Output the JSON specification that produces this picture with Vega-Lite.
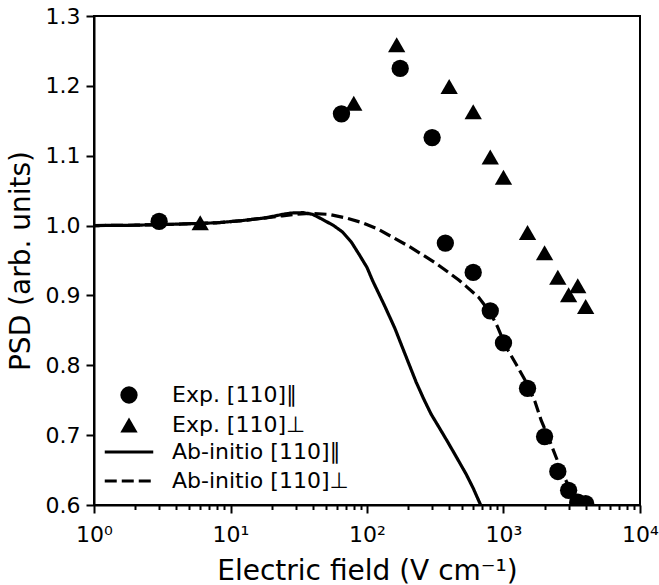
{
  "$schema": "https://vega.github.io/schema/vega-lite/v6.json",
  "width": 546,
  "height": 489,
  "autosize": {"type": "none"},
  "padding": {"left": 94, "top": 16, "right": 19, "bottom": 80},
  "background": "white",
  "config": {
    "font": "DejaVu Sans",
    "view": {"stroke": "black", "strokeWidth": 2},
    "axis": {
      "domainColor": "black", "domainWidth": 2, "tickColor": "black", "tickWidth": 2,
      "labelFont": "DejaVu Sans", "labelFontSize": 22, "labelColor": "black",
      "titleFont": "DejaVu Sans", "titleFontSize": 28, "titleFontWeight": "normal", "titleColor": "black",
      "grid": false
    },
    "legend": {"labelFont": "DejaVu Sans", "labelFontSize": 22, "labelColor": "black", "labelLimit": 0}
  },
  "datasets": {
    "lines": [
      {"field": 1, "psd": 1.0, "model": "Ab-initio [110]∥"},
      {"field": 2, "psd": 1.0005, "model": "Ab-initio [110]∥"},
      {"field": 4, "psd": 1.002, "model": "Ab-initio [110]∥"},
      {"field": 8, "psd": 1.004, "model": "Ab-initio [110]∥"},
      {"field": 12, "psd": 1.007, "model": "Ab-initio [110]∥"},
      {"field": 18, "psd": 1.011, "model": "Ab-initio [110]∥"},
      {"field": 24, "psd": 1.016, "model": "Ab-initio [110]∥"},
      {"field": 28, "psd": 1.018, "model": "Ab-initio [110]∥"},
      {"field": 34, "psd": 1.0185, "model": "Ab-initio [110]∥"},
      {"field": 40, "psd": 1.016, "model": "Ab-initio [110]∥"},
      {"field": 47, "psd": 1.009, "model": "Ab-initio [110]∥"},
      {"field": 57, "psd": 1.0, "model": "Ab-initio [110]∥"},
      {"field": 66, "psd": 0.991, "model": "Ab-initio [110]∥"},
      {"field": 77, "psd": 0.976, "model": "Ab-initio [110]∥"},
      {"field": 88, "psd": 0.958, "model": "Ab-initio [110]∥"},
      {"field": 100, "psd": 0.94, "model": "Ab-initio [110]∥"},
      {"field": 110, "psd": 0.921, "model": "Ab-initio [110]∥"},
      {"field": 134, "psd": 0.886, "model": "Ab-initio [110]∥"},
      {"field": 160, "psd": 0.853, "model": "Ab-initio [110]∥"},
      {"field": 183, "psd": 0.824, "model": "Ab-initio [110]∥"},
      {"field": 229, "psd": 0.776, "model": "Ab-initio [110]∥"},
      {"field": 260, "psd": 0.752, "model": "Ab-initio [110]∥"},
      {"field": 295, "psd": 0.73, "model": "Ab-initio [110]∥"},
      {"field": 340, "psd": 0.71, "model": "Ab-initio [110]∥"},
      {"field": 391, "psd": 0.69, "model": "Ab-initio [110]∥"},
      {"field": 460, "psd": 0.666, "model": "Ab-initio [110]∥"},
      {"field": 533, "psd": 0.644, "model": "Ab-initio [110]∥"},
      {"field": 600, "psd": 0.624, "model": "Ab-initio [110]∥"},
      {"field": 680, "psd": 0.6, "model": "Ab-initio [110]∥"},
      {"field": 1, "psd": 1.0, "model": "Ab-initio [110]⊥"},
      {"field": 2, "psd": 1.0005, "model": "Ab-initio [110]⊥"},
      {"field": 4, "psd": 1.002, "model": "Ab-initio [110]⊥"},
      {"field": 8, "psd": 1.004, "model": "Ab-initio [110]⊥"},
      {"field": 12, "psd": 1.007, "model": "Ab-initio [110]⊥"},
      {"field": 18, "psd": 1.011, "model": "Ab-initio [110]⊥"},
      {"field": 24, "psd": 1.014, "model": "Ab-initio [110]⊥"},
      {"field": 30, "psd": 1.016, "model": "Ab-initio [110]⊥"},
      {"field": 38, "psd": 1.0175, "model": "Ab-initio [110]⊥"},
      {"field": 53, "psd": 1.016, "model": "Ab-initio [110]⊥"},
      {"field": 70, "psd": 1.011, "model": "Ab-initio [110]⊥"},
      {"field": 93, "psd": 1.004, "model": "Ab-initio [110]⊥"},
      {"field": 120, "psd": 0.995, "model": "Ab-initio [110]⊥"},
      {"field": 155, "psd": 0.983, "model": "Ab-initio [110]⊥"},
      {"field": 200, "psd": 0.971, "model": "Ab-initio [110]⊥"},
      {"field": 256, "psd": 0.958, "model": "Ab-initio [110]⊥"},
      {"field": 320, "psd": 0.946, "model": "Ab-initio [110]⊥"},
      {"field": 402, "psd": 0.932, "model": "Ab-initio [110]⊥"},
      {"field": 470, "psd": 0.922, "model": "Ab-initio [110]⊥"},
      {"field": 533, "psd": 0.913, "model": "Ab-initio [110]⊥"},
      {"field": 660, "psd": 0.897, "model": "Ab-initio [110]⊥"},
      {"field": 790, "psd": 0.877, "model": "Ab-initio [110]⊥"},
      {"field": 900, "psd": 0.856, "model": "Ab-initio [110]⊥"},
      {"field": 1047, "psd": 0.826, "model": "Ab-initio [110]⊥"},
      {"field": 1250, "psd": 0.8, "model": "Ab-initio [110]⊥"},
      {"field": 1466, "psd": 0.776, "model": "Ab-initio [110]⊥"},
      {"field": 1700, "psd": 0.748, "model": "Ab-initio [110]⊥"},
      {"field": 1889, "psd": 0.721, "model": "Ab-initio [110]⊥"},
      {"field": 2150, "psd": 0.695, "model": "Ab-initio [110]⊥"},
      {"field": 2432, "psd": 0.668, "model": "Ab-initio [110]⊥"},
      {"field": 2700, "psd": 0.646, "model": "Ab-initio [110]⊥"},
      {"field": 3000, "psd": 0.627, "model": "Ab-initio [110]⊥"},
      {"field": 3650, "psd": 0.6, "model": "Ab-initio [110]⊥"}
    ],
    "points": [
      {"field": 3, "psd": 1.006, "exp": "Exp. [110]∥"},
      {"field": 65, "psd": 1.16, "exp": "Exp. [110]∥"},
      {"field": 175, "psd": 1.225, "exp": "Exp. [110]∥"},
      {"field": 300, "psd": 1.126, "exp": "Exp. [110]∥"},
      {"field": 375, "psd": 0.975, "exp": "Exp. [110]∥"},
      {"field": 600, "psd": 0.933, "exp": "Exp. [110]∥"},
      {"field": 800, "psd": 0.878, "exp": "Exp. [110]∥"},
      {"field": 1000, "psd": 0.832, "exp": "Exp. [110]∥"},
      {"field": 1500, "psd": 0.767, "exp": "Exp. [110]∥"},
      {"field": 2000, "psd": 0.698, "exp": "Exp. [110]∥"},
      {"field": 2500, "psd": 0.648, "exp": "Exp. [110]∥"},
      {"field": 3000, "psd": 0.621, "exp": "Exp. [110]∥"},
      {"field": 3500, "psd": 0.604, "exp": "Exp. [110]∥"},
      {"field": 4000, "psd": 0.602, "exp": "Exp. [110]∥"},
      {"field": 6, "psd": 1.004, "exp": "Exp. [110]⊥"},
      {"field": 80, "psd": 1.175, "exp": "Exp. [110]⊥"},
      {"field": 165, "psd": 1.259, "exp": "Exp. [110]⊥"},
      {"field": 400, "psd": 1.199, "exp": "Exp. [110]⊥"},
      {"field": 600, "psd": 1.163, "exp": "Exp. [110]⊥"},
      {"field": 800, "psd": 1.098, "exp": "Exp. [110]⊥"},
      {"field": 1000, "psd": 1.069, "exp": "Exp. [110]⊥"},
      {"field": 1500, "psd": 0.99, "exp": "Exp. [110]⊥"},
      {"field": 2000, "psd": 0.961, "exp": "Exp. [110]⊥"},
      {"field": 2500, "psd": 0.926, "exp": "Exp. [110]⊥"},
      {"field": 3000, "psd": 0.901, "exp": "Exp. [110]⊥"},
      {"field": 3500, "psd": 0.914, "exp": "Exp. [110]⊥"},
      {"field": 4000, "psd": 0.884, "exp": "Exp. [110]⊥"}
    ]
  },
  "layer": [
    {
      "data": {"name": "lines"},
      "mark": {"type": "line", "strokeWidth": 3.2, "color": "black", "clip": true},
      "encoding": {
        "x": {
          "field": "field", "type": "quantitative",
          "scale": {"type": "log", "domain": [1, 10000]},
          "title": "Electric field (V cm⁻¹)",
          "axis": {
            "values": [1,2,3,4,5,6,7,8,9,10,20,30,40,50,60,70,80,90,100,200,300,400,500,600,700,800,900,1000,2000,3000,4000,5000,6000,7000,8000,9000,10000],
            "labelExpr": "datum.value == 1 ? '10⁰' : datum.value == 10 ? '10¹' : datum.value == 100 ? '10²' : datum.value == 1000 ? '10³' : datum.value == 10000 ? '10⁴' : ''",
            "tickSize": {"condition": {"test": "indexof([1,10,100,1000,10000], datum.value) >= 0", "value": 8}, "value": 4.5},
            "labelFlush": false, "labelOverlap": false, "labelBound": false,
            "labelPadding": 11, "titlePadding": 12
          }
        },
        "y": {
          "field": "psd", "type": "quantitative",
          "scale": {"domain": [0.6, 1.3], "zero": false},
          "title": "PSD (arb. units)",
          "axis": {
            "values": [0.6, 0.7, 0.8, 0.9, 1.0, 1.1, 1.2, 1.3],
            "format": ".1f", "tickSize": 8, "labelPadding": 6,
            "labelFlush": false, "labelOverlap": false, "titlePadding": 10
          }
        },
        "strokeDash": {
          "field": "model", "type": "nominal",
          "scale": {"domain": ["Ab-initio [110]∥", "Ab-initio [110]⊥"], "range": [[1, 0], [12, 5]]},
          "legend": {
            "orient": "none", "legendX": 24, "legendY": 425, "title": null, "padding": 0,
            "symbolType": "M-2.8,0H2.8", "symbolSize": 300, "symbolStrokeWidth": 3.2,
            "symbolStrokeColor": "black", "symbolFillColor": "transparent",
            "labelOffset": 32, "rowPadding": 7, "labelLimit": 0
          }
        }
      }
    },
    {
      "data": {"name": "points"},
      "mark": {"type": "point", "filled": true, "size": 300, "color": "black", "opacity": 1, "clip": true},
      "encoding": {
        "x": {"field": "field", "type": "quantitative"},
        "y": {"field": "psd", "type": "quantitative"},
        "shape": {
          "field": "exp", "type": "nominal",
          "scale": {"domain": ["Exp. [110]∥", "Exp. [110]⊥"], "range": ["circle", "triangle-up"]},
          "legend": {
            "orient": "none", "legendX": 24, "legendY": 368, "title": null, "padding": 0,
            "symbolSize": 300, "symbolFillColor": "black", "symbolStrokeColor": "black", "symbolOpacity": 1,
            "labelOffset": 32, "rowPadding": 7, "labelLimit": 0
          }
        }
      }
    }
  ]
}
